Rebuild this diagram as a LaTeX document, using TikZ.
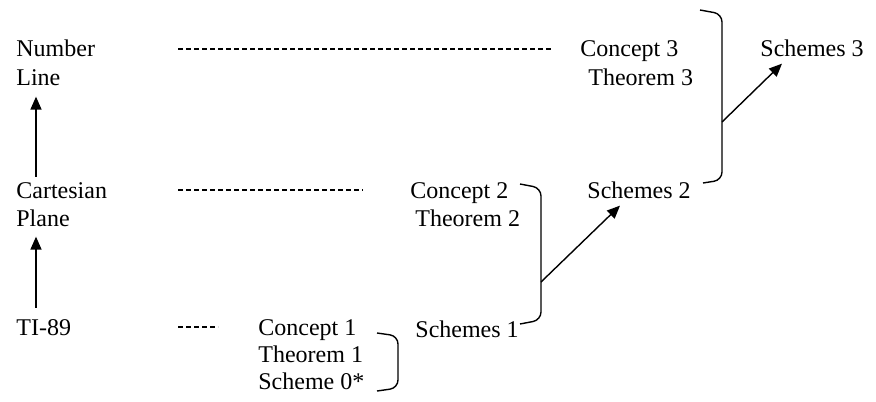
\documentclass[tikz,border=0pt]{standalone}
\usepackage{fontspec}
\setmainfont{Liberation Serif}
\usetikzlibrary{arrows.meta}

\tikzset{
	lbl/.style={inner sep=0pt,anchor=base west,font=\fontsize{12}{14}\selectfont},
	dots/.style={dash pattern=on 2.6pt off 1.4pt,line width=0.55pt},
	up/.style={-{Triangle[length=6.5pt,width=5.5pt]},line width=0.7pt},
	brace/.style={rounded corners=4pt,line width=0.7pt}
}

\begin{document}
\begin{tikzpicture}[x=0.5pt,y=-0.5pt]
	\useasboundingbox (0,0) rectangle (876,401);
	% left column
	\node[lbl] (numb) at (16,57) {Number};
	\node[lbl] (line) at (16,85) {Line};
	\node[lbl] (cart) at (16,198) {Cartesian};
	\node[lbl] (plane) at (16,226) {Plane};
	\node[lbl] (ti) at (16,335) {TI-89};
	% concepts and theorems
	\node[lbl] (c1) at (258,335) {Concept 1};
	\node[lbl] (t1) at (258,362) {Theorem 1};
	\node[lbl] (s0) at (258,389) {Scheme 0*};
	\node[lbl] (c2) at (410,198) {Concept 2};
	\node[lbl] (t2) at (415,226) {Theorem 2};
	\node[lbl] (c3) at (580,57) {Concept 3};
	\node[lbl] (t3) at (588,85) {Theorem 3};
	% schemes
	\node[lbl] (s1) at (415,337) {Schemes 1};
	\node[lbl] (s2) at (587,198) {Schemes 2};
	\node[lbl] (s3) at (760,57) {Schemes 3};
	% dashes
	\coordinate (d1a) at (178,49); \coordinate (d1b) at (552,49);
	\coordinate (d2a) at (178,190); \coordinate (d2b) at (363,190);
	\coordinate (d3a) at (178,327); \coordinate (d3b) at (218,327);
	\draw[dots] (d1a) -- (d1b);
	\draw[dots] (d2a) -- (d2b);
	\draw[dots] (d3a) -- (d3b);
	% vertical arrows
	\draw[up] ([shift={(10pt,2.5pt)}]cart.north west) -- ([shift={(10pt,-5.5pt)}]line.south west);
	\draw[up] ([shift={(10pt,5.5pt)}]ti.north west) -- ([shift={(10pt,-5pt)}]plane.south west);
	% brackets
	\draw[brace] (377,333) -- (398,336) -- (398,388) -- (377,391);
	\draw[brace] (520,184) -- (541,188) -- (541,320) -- (520,324);
	\draw[brace] (700,10) -- (722,14) -- (722,180) -- (703,183);
	\coordinate (m2) at (541,282);
	\coordinate (m3) at (722,122);
	\draw[up] (m2) -- ([shift={(16.5pt,-3.5pt)}]s2.south west);
	\draw[up] (m3) -- ([shift={(11pt,-3pt)}]s3.south west);
\end{tikzpicture}
\end{document}
